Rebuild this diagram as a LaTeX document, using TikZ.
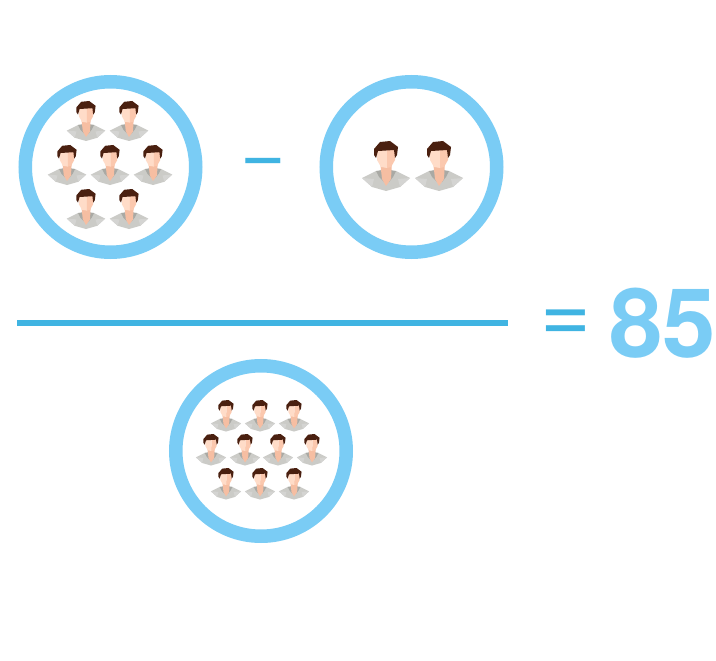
\documentclass[tikz,border=0pt]{standalone}
\usepackage{fontspec}
\setmainfont{TeX Gyre Heros}
\usepackage{xcolor}
\definecolor{ringblue}{HTML}{7ACCF5}
\definecolor{barblue}{HTML}{40B4E2}
\definecolor{hairbrown}{HTML}{4A2010}
\definecolor{skinlight}{HTML}{FFDCC8}
\definecolor{skinmid}{HTML}{FBC8AE}
\definecolor{skindark}{HTML}{F6BEA2}
\definecolor{shirtlight}{HTML}{CBCBC7}
\definecolor{shirtdark}{HTML}{A9A9A4}
\tikzset{
    ring/.style={circle,draw=ringblue,line width=13.5pt,fill=white,minimum size=170.5pt,inner sep=0pt},
    person/.pic={
        \fill[shirtlight] (-24,37)--(-10,30)--(10,30)--(24,37)--(14,46)--(0,50)--(-14,46)--cycle;
        \fill[shirtdark] (-10,30)--(-4,29)--(-2,41)--(-7,36)--cycle;
        \fill[shirtdark] (10,30)--(4,29)--(3,41)--(7,36)--cycle;
        \fill[shirtdark!50!white] (-24,37)--(-12,38)--(-14,46)--cycle;
        \fill[shirtdark!50!white] (24,37)--(12,38)--(14,46)--cycle;
        \fill[skindark] (-6,20)--(6,20)--(5,38)--(0,45)--(-4,38)--cycle;
        \fill[skinlight] (-9,9)--(1,8)--(1,27)--(-5,26)--(-9,19)--cycle;
        \fill[skinmid] (1,8)--(9,9)--(9,19)--(5,26)--(1,27)--cycle;
        \fill[hairbrown] (-12,8)--(-6,1)--(4,0)--(12,6)--(11,14)--(9,17)--(8,9)--(-8,10)--(-10,17)--(-12,14)--cycle;
    },
}
\begin{document}
\begin{tikzpicture}[x=1pt,y=-1pt]
    \useasboundingbox (0,0) rectangle (716,661);
    \node[ring] (groupa) at (110.5,167){};
    \node[ring] (groupb) at (411.5,167){};
    \node[ring] (total) at (261,451){};

    \foreach \px/\py in {86/101,129/101,67/145,110/145,153/145,86/189,129/189}
        \pic[scale=0.8] at (\px,\py){person};
    \foreach \px in {386,439}
        \pic at (\px,141){person};
    \foreach \px/\py in {226/400,260/400,294/400,211/434,245/434,278/434,312/434,226/468,260/468,294/468}
        \pic[scale=0.63] at (\px,\py){person};

    \node[text=barblue,font=\fontsize{78}{78}\selectfont] (minus) at (263,169){\char"2212};
    \coordinate (barl) at (17,323);
    \coordinate (barr) at (508,323);
    \draw[barblue,line width=6pt] (barl)--(barr);
    \node[text=barblue,font=\fontsize{87}{87}\selectfont] (equals) at (566,326.5){=};
    \node[text=ringblue,font=\bfseries\fontsize{96}{96}\selectfont,anchor=east,inner sep=0pt] (score) at (716,323){85};
\end{tikzpicture}
\end{document}
